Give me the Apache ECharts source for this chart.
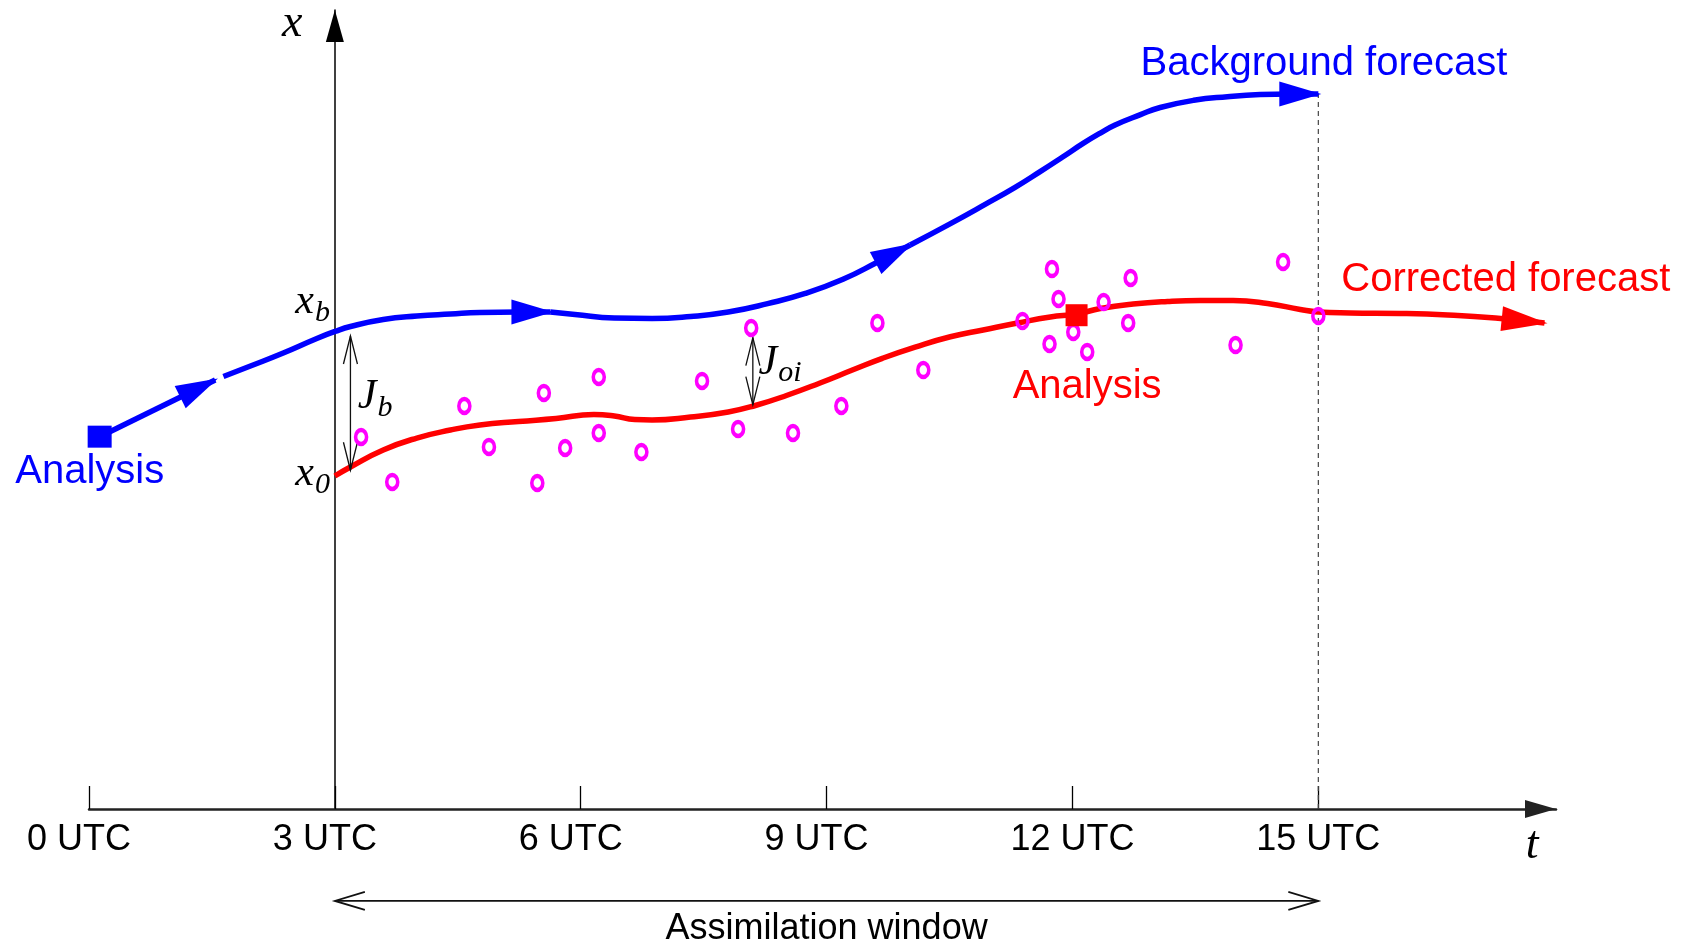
<!DOCTYPE html>
<html>
<head>
<meta charset="utf-8">
<script src="https://cdn.jsdelivr.net/npm/echarts@6/dist/echarts.min.js"></script>
<style>
  html, body { margin: 0; padding: 0; background: #ffffff; }
  #chart { width: 1686px; height: 946px; }
</style>
</head>
<body>
<div id="chart"></div>
<script>
// ================= DATA (time in UTC hours, state in arbitrary units 0..100) =================
const windowStart = 3;            // start of assimilation window (3 UTC)
const windowEnd = 15;             // end of assimilation window (15 UTC)
const tickHours = [0, 3, 6, 9, 12, 15];

// Background (blue) trajectory, drawn as legs that each end in an arrowhead
const bgLeg1 = [[0.13, 46.6], [1.54, 53.7]];
const bgLeg2 = [[1.64, 54.13], [1.97, 55.44], [2.37, 57.07], [2.78, 58.89], [3.00, 59.76], [3.19, 60.39],
                [3.59, 61.26], [4.00, 61.70], [4.41, 61.95], [4.77, 62.14], [5.24, 62.20], [5.63, 62.20]];
const bgLeg3 = [[5.63, 62.20], [5.93, 61.89], [6.41, 61.45], [6.87, 61.39], [7.34, 61.64], [7.80, 62.20],
                [8.28, 63.25], [8.74, 64.52], [9.20, 66.3], [9.63, 68.5], [10.02, 70.59]];
const bgLeg4 = [[10.02, 70.59], [10.50, 73.2], [10.94, 75.7], [11.30, 77.8], [11.61, 79.8], [11.88, 81.6],
                [12.13, 83.3], [12.34, 84.6], [12.52, 85.6], [12.83, 86.9], [13.07, 87.8], [13.48, 88.7],
                [13.89, 89.15], [14.29, 89.42], [14.66, 89.49], [15.00, 89.49]];

// Corrected (red) forecast trajectory
const correctedForecast = [[3.00, 41.68], [3.19, 42.80], [3.59, 44.93], [4.00, 46.43], [4.41, 47.43], [4.77, 48.06],
  [5.24, 48.50], [5.70, 48.87], [6.16, 49.37], [6.41, 49.19], [6.66, 48.75], [6.87, 48.69], [7.34, 49.06],
  [7.80, 49.69], [8.13, 50.50], [8.51, 51.75], [8.92, 53.32], [9.33, 55.0], [9.68, 56.4], [10.08, 57.8],
  [10.51, 59.1], [10.91, 59.95], [11.33, 60.83], [11.73, 61.58], [12.05, 61.95], [12.34, 62.64], [12.74, 63.20],
  [13.16, 63.52], [13.56, 63.64], [13.96, 63.64], [14.38, 63.27], [14.78, 62.52], [15.00, 62.20], [15.39, 62.08],
  [16.00, 62.02], [16.58, 61.83], [17.16, 61.45], [17.76, 60.82]];

// Analyses (squares)
const previousAnalysis = [[0.13, 46.6]];
const newAnalysis = [[12.05, 61.8]];

// Observations (magenta circles)
const observations = [[3.32, 46.56], [3.70, 40.93], [4.58, 50.44], [4.88, 45.31], [5.47, 40.80], [5.55, 52.07],
  [5.81, 45.18], [6.22, 54.07], [6.22, 47.06], [6.74, 44.68], [7.48, 53.57], [7.92, 47.56], [8.08, 60.20],
  [8.59, 47.06], [9.18, 50.44], [9.62, 60.83], [10.18, 54.94], [11.39, 61.08], [11.75, 67.58], [11.83, 63.83],
  [12.38, 63.45], [12.71, 66.46], [12.68, 60.83], [12.01, 59.70], [11.72, 58.20], [12.18, 57.20], [13.99, 58.07],
  [14.57, 68.46], [15.00, 61.70]];

// Distances J_b (background) and J_oi (observation)
const jbSpan = [[3.19, 42.4], [3.19, 59.2]];
const joiSpan = [[8.10, 50.6], [8.10, 59.0]];

// ================= LAYOUT / STYLE =================
const windowArrowLevel = -11.5;   // state-units position of the window arrow below the time axis
const BLUE = '#0000ff', RED = '#ff0000', MAGENTA = '#ff00ff';
const SANS = 'Liberation Sans, Arial, Helvetica, sans-serif';
const SERIF = 'Liberation Serif, Times New Roman, serif';

const mathRich = {
  M: { fontFamily: SERIF, fontStyle: 'italic', fontSize: 46, lineHeight: 46, verticalAlign: 'top', color: '#000' },
  m: { fontFamily: SERIF, fontStyle: 'italic', fontSize: 42, lineHeight: 42, verticalAlign: 'top', color: '#000' },
  s: { fontFamily: SERIF, fontStyle: 'italic', fontSize: 30, lineHeight: 64, padding: [17, 0, 0, 1], verticalAlign: 'top', color: '#000' }
};

const textItems = [
  { text: '{M|x}', at: [2.48, 98.2], align: 'center', math: true },
  { text: '{M|t}', at: [17.61, -4.58], align: 'center', math: true },
  { text: '{m|x}{s|b}', at: [2.94, 62.08], align: 'right', math: true },
  { text: '{m|x}{s|0}', at: [2.94, 40.55], align: 'right', math: true },
  { text: '{m|J}{s|b}', at: [3.28, 50.19], align: 'left', math: true },
  { text: '{m|J}{s|oi}', at: [8.17, 54.5], align: 'left', math: true },
  { text: 'Analysis', at: [-0.90, 42.14], align: 'left', color: BLUE, size: 40 },
  { text: 'Background forecast', at: [12.83, 93.24], align: 'left', color: BLUE, size: 40 },
  { text: 'Corrected forecast', at: [15.28, 66.21], align: 'left', color: RED, size: 40 },
  { text: 'Analysis', at: [11.27, 52.82], align: 'left', color: RED, size: 40 },
  { text: 'Assimilation window', at: [(windowStart + windowEnd) / 2, -15.0], align: 'center', color: '#000', size: 36 }
];

// time relative to the start of the window (so the state axis sits on zero)
const rel = p => [p[0] - windowStart, p[1]];
const relTicks = tickHours.map(h => h - windowStart);

function lineSeries(name, pts, color, z) {
  return {
    type: 'line', name, data: pts.map(rel), smooth: 0.5, showSymbol: false, symbol: 'none',
    lineStyle: { color, width: 5.5, cap: 'butt', join: 'round', opacity: 1 }, z, silent: true, clip: false
  };
}
function lastTwo(leg) {
  const n = leg.length;
  return rel(leg[n - 1]).concat(rel(leg[n - 2]));
}
function arrowHeads(name, items, color, len, width) {
  return {
    type: 'custom', name, coordinateSystem: 'cartesian2d', clip: false, silent: true, z: 4,
    data: items,
    renderItem: function (params, api) {
      const tip = api.coord([api.value(0), api.value(1)]);
      const prev = api.coord([api.value(2), api.value(3)]);
      const dx = tip[0] - prev[0], dy = tip[1] - prev[1];
      const d = Math.hypot(dx, dy) || 1;
      const ux = dx / d, uy = dy / d, nx = -uy, ny = ux;
      const push = 3;
      const t = [tip[0] + ux * push, tip[1] + uy * push];
      const b = [t[0] - ux * len, t[1] - uy * len];
      return {
        type: 'polygon',
        shape: { points: [t, [b[0] + nx * width / 2, b[1] + ny * width / 2], [b[0] - nx * width / 2, b[1] - ny * width / 2]] },
        style: { fill: color }
      };
    }
  };
}
function doubleArrows(name, items, lw, len, half) {
  return {
    type: 'custom', name, coordinateSystem: 'cartesian2d', clip: false, silent: true, z: 5,
    data: items,
    renderItem: function (params, api) {
      const a = api.coord([api.value(0), api.value(1)]);
      const b = api.coord([api.value(2), api.value(3)]);
      const dx = b[0] - a[0], dy = b[1] - a[1];
      const d = Math.hypot(dx, dy) || 1;
      const ux = dx / d, uy = dy / d, nx = -uy, ny = ux;
      const st = { stroke: '#111', lineWidth: lw, fill: null };
      const head = (p, sx, sy) => [
        [p[0] + sx * len + nx * half, p[1] + sy * len + ny * half],
        p,
        [p[0] + sx * len - nx * half, p[1] + sy * len - ny * half]
      ];
      return {
        type: 'group',
        children: [
          { type: 'line', shape: { x1: a[0], y1: a[1], x2: b[0], y2: b[1] }, style: st },
          { type: 'polyline', shape: { points: head(a, ux, uy) }, style: st },
          { type: 'polyline', shape: { points: head(b, -ux, -uy) }, style: st }
        ]
      };
    }
  };
}

const chart = echarts.init(document.getElementById('chart'), null, { renderer: 'canvas', width: 1686, height: 946 });

const option = {
  backgroundColor: '#ffffff',
  animation: false,
  grid: { left: 89, right: 130, top: 10, bottom: 137, containLabel: false, outerBoundsMode: 'none' },
  xAxis: {
    type: 'value', min: -windowStart, max: 14.9,
    splitLine: { show: false },
    axisLine: {
      show: true, onZero: true,
      lineStyle: { color: '#222', width: 2.5 },
      symbol: ['none', 'triangle'], symbolSize: [18, 31], symbolOffset: [0, -15.5]
    },
    axisTick: { show: true, inside: true, length: 23, customValues: relTicks, lineStyle: { color: '#000', width: 1.3 } },
    axisLabel: {
      show: true, customValues: relTicks, margin: 13,
      formatter: v => '{u|' + Math.round(v + windowStart) + ' UTC}',
      rich: { u: { width: 124, align: 'left', fontSize: 36, lineHeight: 36, fontFamily: SANS, color: '#000' } }
    }
  },
  yAxis: {
    type: 'value', min: 0, max: 100,
    splitLine: { show: false },
    axisLine: {
      show: true, onZero: true,
      lineStyle: { color: '#000', width: 1.5 },
      symbol: ['none', 'triangle'], symbolSize: [18, 32], symbolOffset: [0, -16]
    },
    axisTick: { show: false },
    axisLabel: { show: false }
  },
  series: [
    // end of window (dashed)
    {
      type: 'line', name: 'window end', silent: true, z: 1, showSymbol: false, symbol: 'none',
      data: [rel([windowEnd, 0]), rel(bgLeg4[bgLeg4.length - 1])],
      lineStyle: { color: '#444', width: 1.2, type: [5, 4] }
    },
    lineSeries('background 1', bgLeg1, BLUE, 3),
    lineSeries('background 2', bgLeg2, BLUE, 3),
    lineSeries('background 3', bgLeg3, BLUE, 3),
    lineSeries('background 4', bgLeg4, BLUE, 3),
    lineSeries('corrected forecast', correctedForecast, RED, 3),
    arrowHeads('background arrows', [bgLeg1, bgLeg2, bgLeg3, bgLeg4].map(lastTwo), BLUE, 42, 25),
    arrowHeads('corrected arrow', [lastTwo(correctedForecast)], RED, 46, 25),
    {
      type: 'scatter', name: 'observations', silent: true, z: 6,
      data: observations.map(rel), symbol: 'circle', symbolSize: [11, 14],
      itemStyle: { color: 'rgba(255,255,255,0)', borderColor: MAGENTA, borderWidth: 4, opacity: 1 }
    },
    {
      type: 'scatter', name: 'previous analysis', silent: true, z: 7,
      data: previousAnalysis.map(rel), symbol: 'rect', symbolSize: [24, 22], itemStyle: { color: BLUE, opacity: 1 }
    },
    {
      type: 'scatter', name: 'analysis', silent: true, z: 7,
      data: newAnalysis.map(rel), symbol: 'rect', symbolSize: [22, 22], itemStyle: { color: RED, opacity: 1 }
    },
    doubleArrows('J arrows', [jbSpan, joiSpan].map(s => rel(s[0]).concat(rel(s[1]))), 1.3, 28, 7),
    doubleArrows('window arrow', [rel([windowStart, windowArrowLevel]).concat(rel([windowEnd, windowArrowLevel]))], 1.8, 30, 9),
    {
      type: 'scatter', name: 'texts', silent: true, z: 10, clip: false,
      symbol: 'circle', symbolSize: 0.1, itemStyle: { color: 'rgba(0,0,0,0)', opacity: 1 },
      data: textItems.map(t => ({
        value: rel(t.at),
        label: t.math ? {
          show: true, position: 'inside', formatter: t.text, align: t.align, verticalAlign: 'middle',
          rich: mathRich, color: '#000', textBorderWidth: 0, opacity: 1
        } : {
          show: true, position: 'inside', formatter: t.text, align: t.align, verticalAlign: 'middle',
          color: t.color, fontSize: t.size, fontFamily: SANS, textBorderWidth: 0, opacity: 1
        }
      }))
    }
  ]
};

chart.setOption(option);
</script>
</body>
</html>
